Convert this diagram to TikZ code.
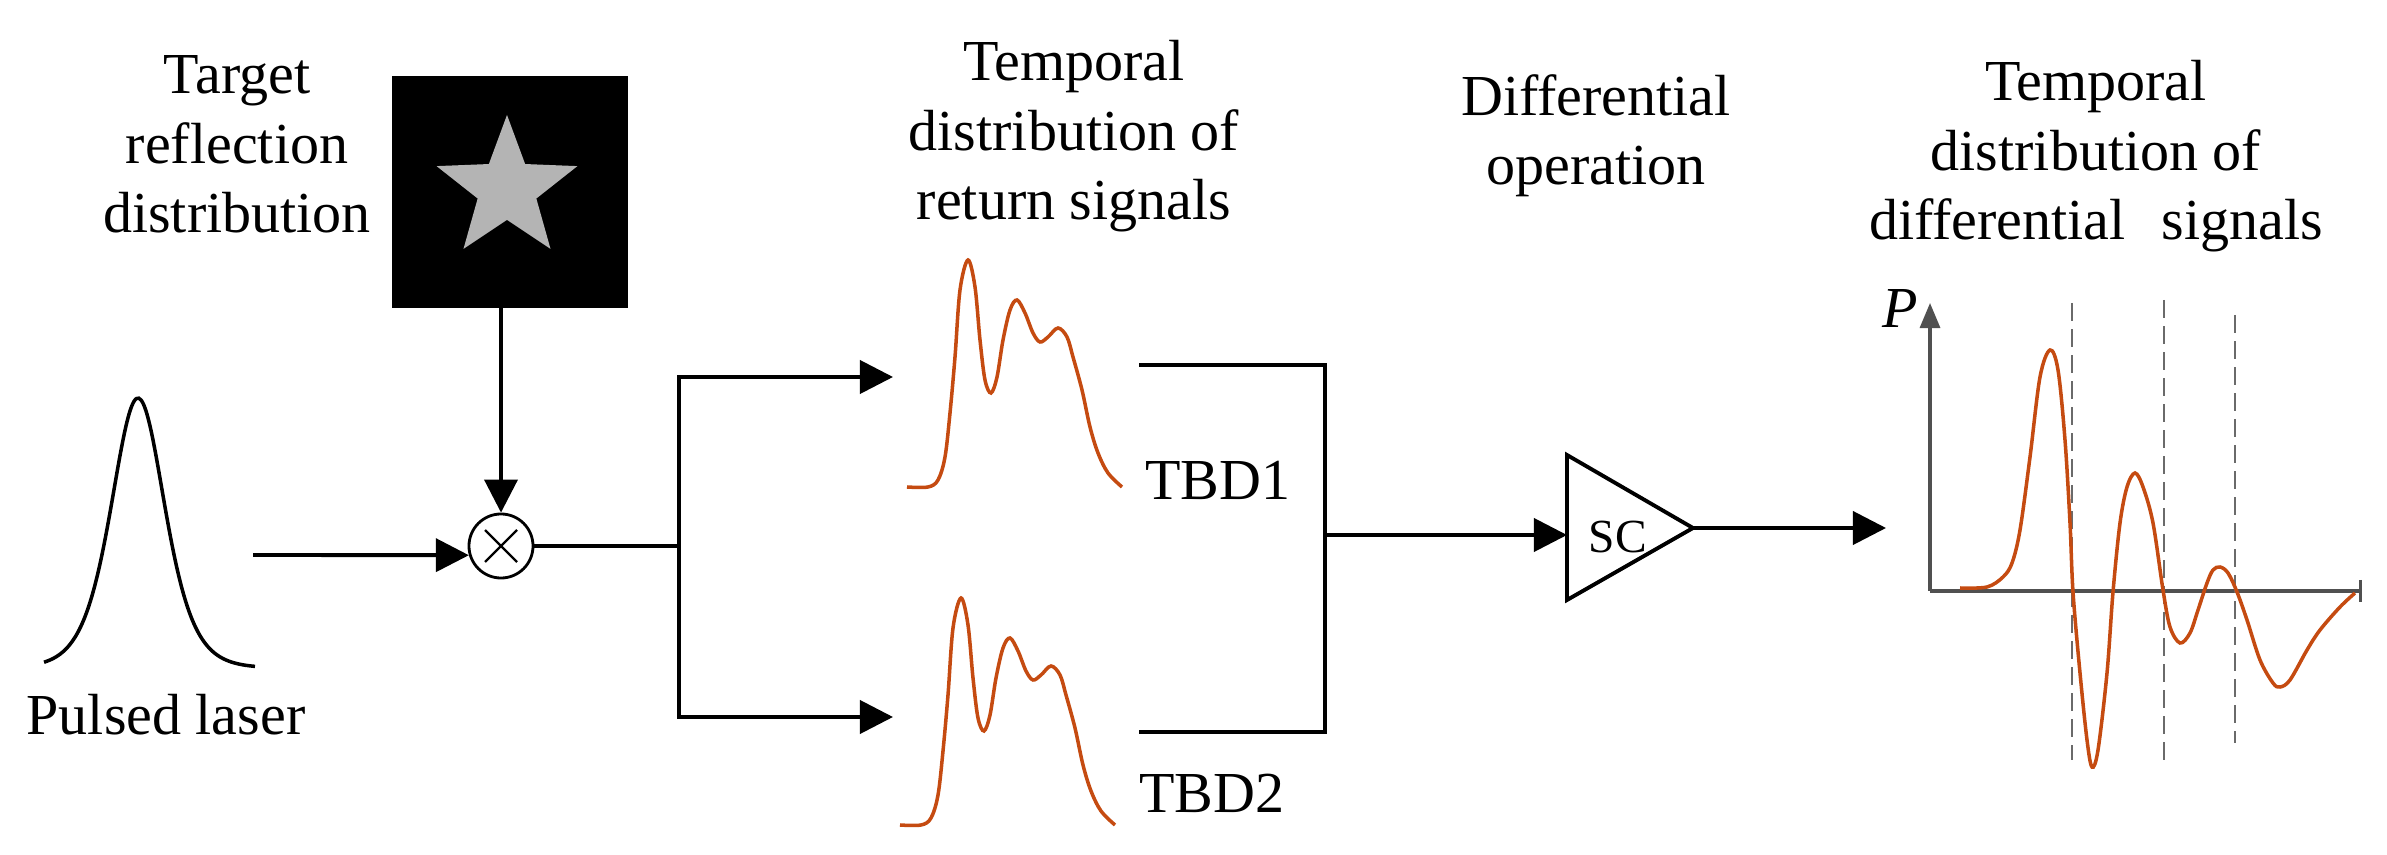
\documentclass[tikz,border=0pt]{standalone}
\usepackage{fontspec}
\setmainfont{Liberation Serif}
\usetikzlibrary{calc}
\usetikzlibrary{positioning}
\usetikzlibrary{arrows.meta,shapes.geometric}

\definecolor{sigorange}{RGB}{197,75,17}
\definecolor{axisgray}{RGB}{80,80,80}
\definecolor{stargray}{RGB}{180,180,180}

\tikzset{
	lbl/.style={align=center,anchor=base,inner sep=0pt,font=\fontsize{16.5}{19.8}\selectfont},
	wire/.style={line width=1.1pt},
	arr/.style={line width=1.1pt,-{Triangle[length=0.33cm,width=0.33cm]}},
	sig/.style={sigorange,line width=1pt,smooth,tension=0.55},
	axis/.style={axisgray,line width=0.9pt},
	guide/.style={axisgray!85,line width=0.6pt,dash pattern=on 0.18cm off 0.08cm},
	pics/retsig/.style={code={
		\draw[sig] plot coordinates {(0,0) (21,0) (31,-7) (38,-30) (43,-74) (48,-130) (53,-197) (61,-227) (68,-200) (73,-147) (78,-107) (84,-94) (90,-110) (96,-147) (103,-177) (110,-187) (118,-174) (126,-154) (133,-145) (141,-150) (151,-159) (160,-150) (166,-130) (175,-97) (183,-60) (191,-34) (201,-14) (215,0)};
	}}
}

\begin{document}
\begin{tikzpicture}[x=0.01cm,y=-0.01cm]
	\useasboundingbox (0,0) rectangle (2387,855);
	%labels (base = last line)
	\node[lbl] (tgt-lbl) at (237,233) {Target\\reflection\\distribution};
	\node[lbl] (pulse-lbl) at (166,735) {Pulsed laser};
	\node[lbl] (ret-lbl) at (1074,220) {Temporal\\distribution of\\return signals};
	\node[lbl] (diff-lbl) at (1596,185) {Differential\\operation};
	\node[lbl] (out-lbl) at (2096,240) {Temporal\\distribution of\\differential\hspace{0.62em}signals};
	\node[lbl] (tbd1) at (1218,500) {TBD1};
	\node[lbl] (tbd2) at (1212,812) {TBD2};
	%pulsed laser
	\draw[wire,line width=1pt] plot[domain=44:255,samples=90,smooth] (\x,{668-270/(cosh((\x-138)/36))^2});
	%target image
	\node[fill=black,minimum width=2.35cm,minimum height=2.31cm,inner sep=0pt] (tgt) at (510,192) {};
	\node[star,star points=5,star point ratio=2.4,minimum size=1.48cm,inner sep=0pt,fill=stargray] (star) at (507,189) {};
	%multiplier
	\node[draw,circle,minimum size=0.64cm,inner sep=0pt,line width=0.8pt] (mul) at (501,546) {};
	\draw[line width=0.7pt] ($(mul)+(-16,-16)$)--($(mul)+(16,16)$) ($(mul)+(-16,16)$)--($(mul)+(16,-16)$);
	\coordinate (pulse-out) at (253,555);
	\draw[arr] (pulse-out)--(mul.196);
	\draw[arr] (tgt.south -| mul.north)--(mul.north);
	%split to the two detectors
	\coordinate (split) at (679,546);
	\coordinate (ret1-in) at (893,377);
	\coordinate (ret2-in) at (893,717);
	\draw[wire] (mul.east)--(split);
	\draw[arr] (split)|-(ret1-in);
	\draw[arr] (split)|-(ret2-in);
	\pic at (907,487) {retsig};
	\pic at (900,825) {retsig};
	%join
	\coordinate (ret1-out) at (1139,365);
	\coordinate (ret2-out) at (1139,732);
	\coordinate (join) at (1325,535);
	\draw[wire] (ret1-out)-|(join)|-(ret2-out);
	%subtractor
	\coordinate (amp-top) at (1567,455);
	\coordinate (amp-bot) at (1567,600);
	\coordinate (amp-tip) at (1693,528);
	\draw[wire,line join=miter] (amp-top)--(amp-tip)--(amp-bot)--cycle;
	\node[lbl,font=\fontsize{13.5}{16}\selectfont] (sc-lbl) at (1618,553) {SC};
	\draw[arr] (join)--(join -| amp-top);
	\coordinate (graph-in) at (1886,528);
	\draw[arr] (amp-tip)--(graph-in);
	%differential signal graph
	\coordinate (go) at (1930,591);
	\coordinate (y-top) at (1930,303);
	\coordinate (x-end) at (2362,591);
	\draw[axis,-{Triangle[length=0.25cm,width=0.2cm]}] (go)--(y-top);
	\draw[axis,-{Bar[width=0.22cm]}] (go)--(x-end);
	\node[lbl] (p-lbl) at (1900,328) {\textit{P}};
	\foreach \xd/\yt/\yb in {2072/303/760,2164/300/765,2235/315/743}
		\draw[guide] (\xd,\yt)--(\xd,\yb);
	\draw[sig] plot coordinates {(1960,588) (1987,587) (2003,577) (2012,563) (2020,530) (2030,457) (2040,377) (2050,350) (2058,370) (2065,440) (2070,523) (2073,592) (2080,673) (2087,740) (2092,767) (2098,750) (2107,673) (2113,592) (2120,523) (2127,487) (2135,473) (2143,487) (2153,523) (2163,590) (2170,627) (2180,643) (2190,633) (2198,610) (2207,583) (2213,570) (2220,567) (2228,573) (2237,592) (2247,620) (2260,660) (2273,683) (2280,687) (2290,680) (2307,650) (2320,630) (2340,607) (2355,593)};
\end{tikzpicture}
\end{document}
